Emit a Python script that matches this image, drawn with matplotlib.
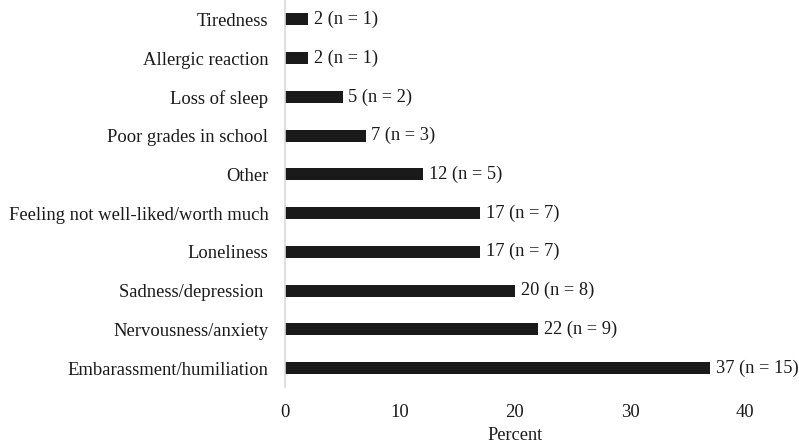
import matplotlib
matplotlib.use("Agg")
import matplotlib.pyplot as plt

categories = [
    "Tiredness",
    "Allergic reaction",
    "Loss of sleep",
    "Poor grades in school",
    "Other",
    "Feeling not well-liked/worth much",
    "Loneliness",
    "Sadness/depression ",
    "Nervousness/anxiety",
    "Embarassment/humiliation",
]
percent = [2, 2, 5, 7, 12, 17, 17, 20, 22, 37]
counts = [1, 1, 2, 3, 5, 7, 7, 8, 9, 15]

plt.rcParams["font.family"] = ["Liberation Serif", "DejaVu Serif"]

fig = plt.figure(figsize=(7.99, 4.44), dpi=100)
ax = fig.add_axes([0.3567, 0.1275, 0.5757, 0.8725])

ypos = list(range(len(categories)))
ax.barh(ypos, percent, height=0.31, color="#1a1a1a")
for y, p, n in zip(ypos, percent, counts):
    ax.annotate(f"{p} (n = {n})", (p, y), xytext=(4, 0), textcoords="offset points",
                va="center", ha="left", fontsize=13.2, color="#1a1a1a", annotation_clip=False)

ax.set_yticks(ypos)
ax.set_yticklabels(categories, fontsize=13.4, color="#1a1a1a")
ax.set_ylim(len(categories) - 0.5, -0.5)
ax.set_xlim(0, 40)
ax.set_xticks([0, 10, 20, 30, 40])
ax.tick_params(axis="x", length=0, pad=12, labelsize=13.4, labelcolor="#1a1a1a")
ax.tick_params(axis="y", length=0, pad=12)
ax.set_xlabel("Percent", fontsize=13.2, color="#1a1a1a", labelpad=4.5)

for s in ["top", "right", "bottom"]:
    ax.spines[s].set_visible(False)
ax.spines["left"].set_color("#d9d9d9")
ax.spines["left"].set_linewidth(1.2)

fig.savefig("out.png", dpi=100)
